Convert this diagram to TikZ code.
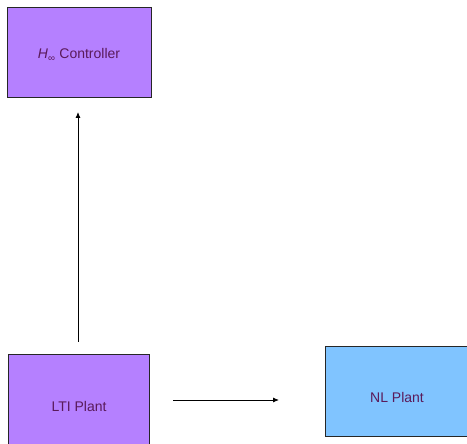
\documentclass[tikz,border=0pt]{standalone}
\usepackage{fontspec}
\setmainfont{Liberation Sans}
\usetikzlibrary{arrows.meta}
\definecolor{boxpurple}{HTML}{B580FF}
\definecolor{boxblue}{HTML}{80C4FF}
\definecolor{txt}{HTML}{5A1A5A}
\begin{document}
\begin{tikzpicture}[x=1pt,y=-1pt,
  blk/.style={draw=black!85,line width=0.9pt,text=txt,font=\fontsize{14}{16}\selectfont},
  arr/.style={line width=0.9pt,-{Latex[length=6pt,width=5pt]}}]
\useasboundingbox (0,0) rectangle (467,444);
\clip (0,0) rectangle (467,444);
\draw[blk,fill=boxpurple] (7,7) rectangle (151,97);
\draw[blk,fill=boxpurple] (8,354) rectangle (149,446);
\draw[blk,fill=boxblue] (325,346) rectangle (470,436);
\node[text=txt,font=\fontsize{14}{16}\selectfont] (ctrl) at (79,55) {\textit{H}\textsubscript{∞} Controller};
\node[text=txt,font=\fontsize{14}{16}\selectfont] (lti) at (79,406) {LTI Plant};
\node[text=txt,font=\fontsize{14}{16}\selectfont] (nl) at (397,397) {NL Plant};
\coordinate (a1s) at (78,342);
\coordinate (a1e) at (78,112);
\coordinate (a2s) at (173,400);
\coordinate (a2e) at (279,400);
\draw[arr] (a1s) -- (a1e);
\draw[arr] (a2s) -- (a2e);
\end{tikzpicture}
\end{document}
